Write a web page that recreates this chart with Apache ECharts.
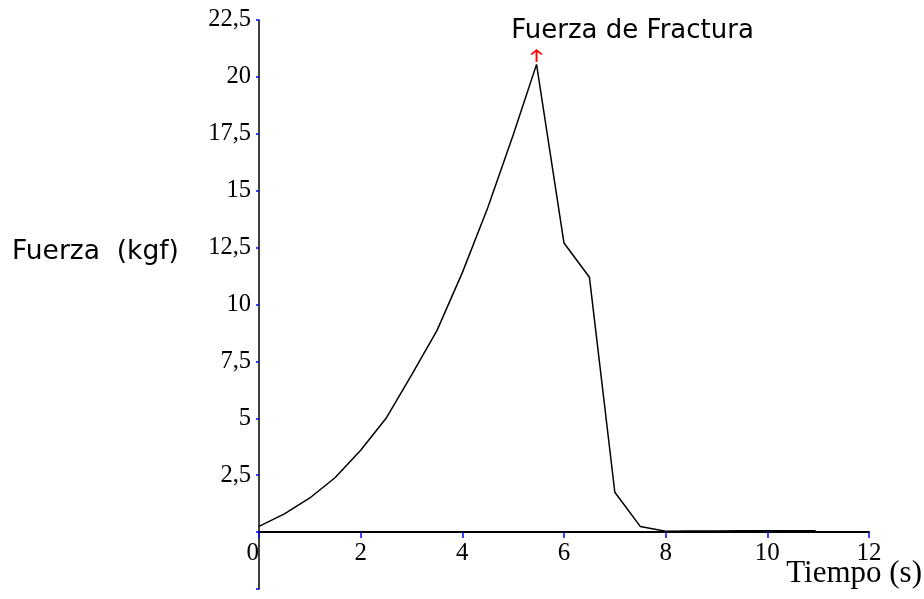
<!DOCTYPE html>
<html>
<head>
<meta charset="utf-8">
<script src="https://cdn.jsdelivr.net/npm/echarts@6/dist/echarts.min.js"></script>
<style>html,body{margin:0;padding:0;background:#fff;}#c{width:924px;height:599px;}</style>
</head>
<body>
<div id="c"></div>
<script>
// Tiempo (s)
const times  = [0, 0.5, 1, 1.5, 2, 2.5, 3, 3.5, 4, 4.5, 5, 5.46, 6, 6.5, 7, 7.5, 8, 8.5, 9, 9.5, 10, 10.5, 10.95];
// Fuerza (kgf)
const forces = [0.25, 0.8, 1.5, 2.4, 3.6, 5.0, 6.9, 8.85, 11.4, 14.25, 17.45, 20.55, 12.7, 11.2, 1.75, 0.25, 0.04, 0.05, 0.05, 0.06, 0.06, 0.06, 0.06];
const peakIndex = 11;
const peakLabel = 'Fuerza de Fractura';
const xName = 'Tiempo (s)';
const yName = 'Fuerza  (kgf)';
const yMin = -2.5, yMax = 22.5, yStep = 2.5;
const xMin = 0, xMax = 12, xStep = 2;

const chart = echarts.init(document.getElementById('c'), null, {renderer: 'canvas'});
const serif = 'Liberation Serif';
const sans = 'DejaVu Sans';

function build(xOffset) {
  return {
    animation: false,
    backgroundColor: '#ffffff',
    title: {text: yName, left: 12, top: 239, padding: 0,
      textStyle: {fontFamily: sans, fontSize: 26.5, fontWeight: 'normal', color: '#000'}},
    grid: {left: 259, right: 55, top: 20, bottom: 10, containLabel: false, outerBoundsMode: 'none'},
    xAxis: {
      type: 'value', min: xMin, max: xMax, interval: xStep,
      position: 'bottom', offset: xOffset,
      name: xName, nameLocation: 'end', nameGap: 53, nameMoveOverlap: false,
      nameTextStyle: {fontFamily: serif, fontSize: 31, color: '#000', align: 'right', verticalAlign: 'top', padding: [26, 0, 0, 0]},
      axisLine: {onZero: false, lineStyle: {color: '#000', width: 2}},
      axisTick: {show: true, length: 6, lineStyle: {color: '#0000ff', width: 1.5}},
      axisLabel: {fontFamily: serif, fontSize: 25, color: '#000', margin: 9, alignMinLabel: 'right'},
      splitLine: {show: false}
    },
    yAxis: {
      type: 'value', min: yMin, max: yMax, interval: yStep,
      axisLine: {onZero: false, lineStyle: {color: '#000', width: 1.5}},
      axisTick: {show: true, length: 3, lineStyle: {color: '#0000ff', width: 1.5}},
      axisLabel: {fontFamily: serif, fontSize: 24.5, color: '#000', margin: 8,
        formatter: v => v <= 0 ? '' : String(v).replace('.', ',')},
      splitLine: {show: false}
    },
    series: [{
      type: 'line',
      data: times.map((t, i) => [t, forces[i]]),
      showSymbol: false,
      lineStyle: {color: '#000', width: 1.5},
      itemStyle: {color: '#000'},
      markPoint: {
        silent: true,
        symbol: 'path://M5,0 L10,5 L8.8,6.2 L5.8,3.2 L5.8,13 L4.2,13 L4.2,3.2 L1.2,6.2 L0,5 Z',
        symbolSize: [12, 13],
        symbolOffset: [0, -9],
        itemStyle: {color: '#ff0000'},
        label: {show: true, formatter: peakLabel, position: 'top', distance: 5, offset: [96, 0],
          fontFamily: sans, fontSize: 26, color: '#000'},
        data: [{coord: [times[peakIndex], forces[peakIndex]]}]
      }
    }]
  };
}

chart.setOption(build(0));
// place the x axis on the y = 0 line, measured through the library's own y scale
const yBottom = chart.convertToPixel({yAxisIndex: 0}, yMin);
const yZero = chart.convertToPixel({yAxisIndex: 0}, 0);
chart.setOption(build(-(yBottom - yZero)));
</script>
</body>
</html>
